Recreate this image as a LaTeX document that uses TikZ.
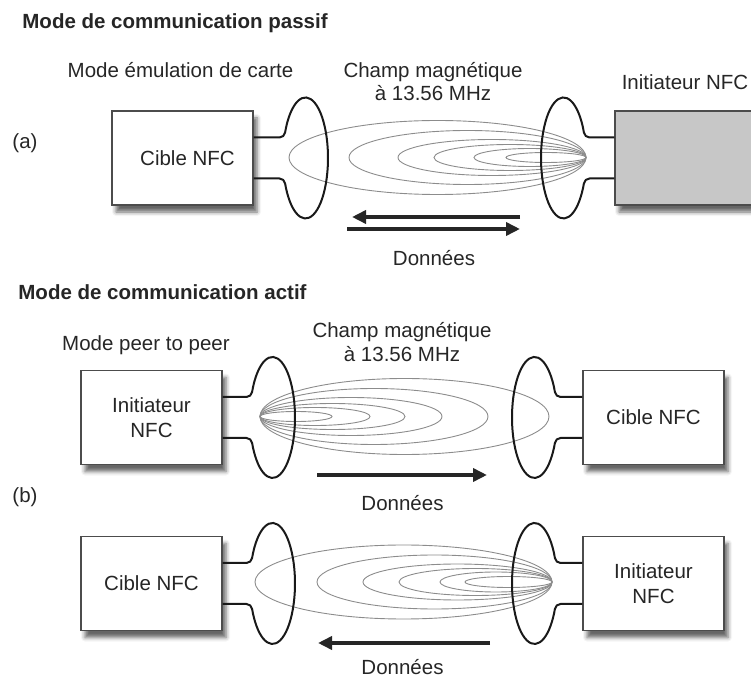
\documentclass[tikz,border=0pt]{standalone}
\usepackage{fontspec}
\setmainfont{Liberation Sans}
\usetikzlibrary{arrows.meta,shadows.blur}

\begin{document}
\begin{tikzpicture}[x=0.5pt,y=-0.5pt,
    every node/.style={font=\fontsize{10.25}{11.75}\selectfont,text=black!85},
    title/.style={font=\bfseries\fontsize{10.25}{11.75}\selectfont,anchor=west,inner xsep=0pt},
    box/.style={draw=black!70,line width=0.6pt,fill=white,minimum width=70.5pt,minimum height=47pt,
      inner sep=0pt,align=center,font=\fontsize{10.25}{12.75}\selectfont,
      blur shadow={shadow xshift=2pt,shadow yshift=-3.5pt,shadow blur radius=2pt,shadow opacity=60}},
    coil/.style={black!90,line width=1pt},
    field/.style={black!45,line width=0.45pt},
    data/.style={black!85,line width=1.75pt,-{Triangle[length=7pt,width=6.5pt]}}]
        \useasboundingbox (0,0) rectangle (751,679);
        \clip (0,0) rectangle (751,679);
        % (a) passif
        \node[title] (t1) at (22,23) {Mode de communication passif};
        \node (ma) at (180.5,70) {Mode émulation de carte};
        \node[align=center] (ca) at (433,81.5) {Champ magnétique\\à 13.56 MHz};
        \node (ia) at (685,82) {Initiateur NFC};
        \node (la) at (25,143) {(a)};
        \node[box] (cibleA) at (182.5,158) {\hspace*{5pt}Cible NFC};
        \node[box,fill=black!22,minimum width=80pt] (initA) at (695,158) {};
        \foreach \w/\h in {297/37,237/27,188/18,152/13,112/9,80/5}
          \draw[field] ({586-\w/2},157.5) ellipse[x radius=\w*0.25pt,y radius=\h*0.5pt];
        \coordinate (a1) at (520,217); \coordinate (a2) at (352,217);
        \coordinate (a3) at (347,229); \coordinate (a4) at (520,229);
        \draw[data] (a1) -- (a2);
        \draw[data] (a3) -- (a4);
        \node (da) at (434,258) {Données};
        % (b) actif
        \node[title] (t2) at (18,292) {Mode de communication actif};
        \node (mb) at (146,345) {Mode peer to peer};
        \node[align=center] (cb) at (402,342) {Champ magnétique\\à 13.56 MHz};
        \node (lb) at (25,497) {(b)};
        \node[box] (initB) at (151.5,417.5) {Initiateur\\NFC};
        \node[box] (cibleB) at (653.5,417.5) {Cible NFC};
        \node[box] (cibleC) at (151.5,583.5) {Cible NFC};
        \node[box] (initC) at (653.5,583.5) {Initiateur\\NFC};
        \foreach \w/\h in {289/38,228/28,182/19,145/13,110/9,72/5}
          \draw[field] ({260+\w/2},416.5) ellipse[x radius=\w*0.25pt,y radius=\h*0.5pt];
        \foreach \w/\h in {297/37,235/27,189/18,153/13.5,112/10,87/5.5}
          \draw[field] ({552-\w/2},582) ellipse[x radius=\w*0.25pt,y radius=\h*0.5pt];
        \coordinate (b1) at (317,475); \coordinate (b2) at (487,475);
        \coordinate (c1) at (490,643); \coordinate (c2) at (318,643);
        \draw[data] (b1) -- (b2);
        \draw[data] (c1) -- (c2);
        \node (db1) at (402.5,503) {Données};
        \node (db2) at (402.5,667) {Données};
        % coils
        \foreach \cx/\cy/\bx in {305.5/158/cibleA,272.5/417.5/initB,272.5/583.5/cibleC}
          \draw[coil] ([yshift=10.25pt]\bx.east) -- (\cx-26,\cy-20.5) to[out=0,in=260] (\cx-20.4,\cy-25.6)
            arc[start angle=155,end angle=-155,x radius=11.25pt,y radius=30.25pt]
            to[out=100,in=0] (\cx-26,\cy+20.5) -- ([yshift=-10.25pt]\bx.east);
        \foreach \cx/\cy/\bx in {563.5/158/initA,534.5/417.5/cibleB,534.5/583.5/initC}
          \draw[coil] ([yshift=10.25pt]\bx.west) -- (\cx+26,\cy-20.5) to[out=180,in=280] (\cx+20.4,\cy-25.6)
            arc[start angle=25,end angle=335,x radius=11.25pt,y radius=30.25pt]
            to[out=80,in=180] (\cx+26,\cy+20.5) -- ([yshift=-10.25pt]\bx.west);
      \end{tikzpicture}
\end{document}
